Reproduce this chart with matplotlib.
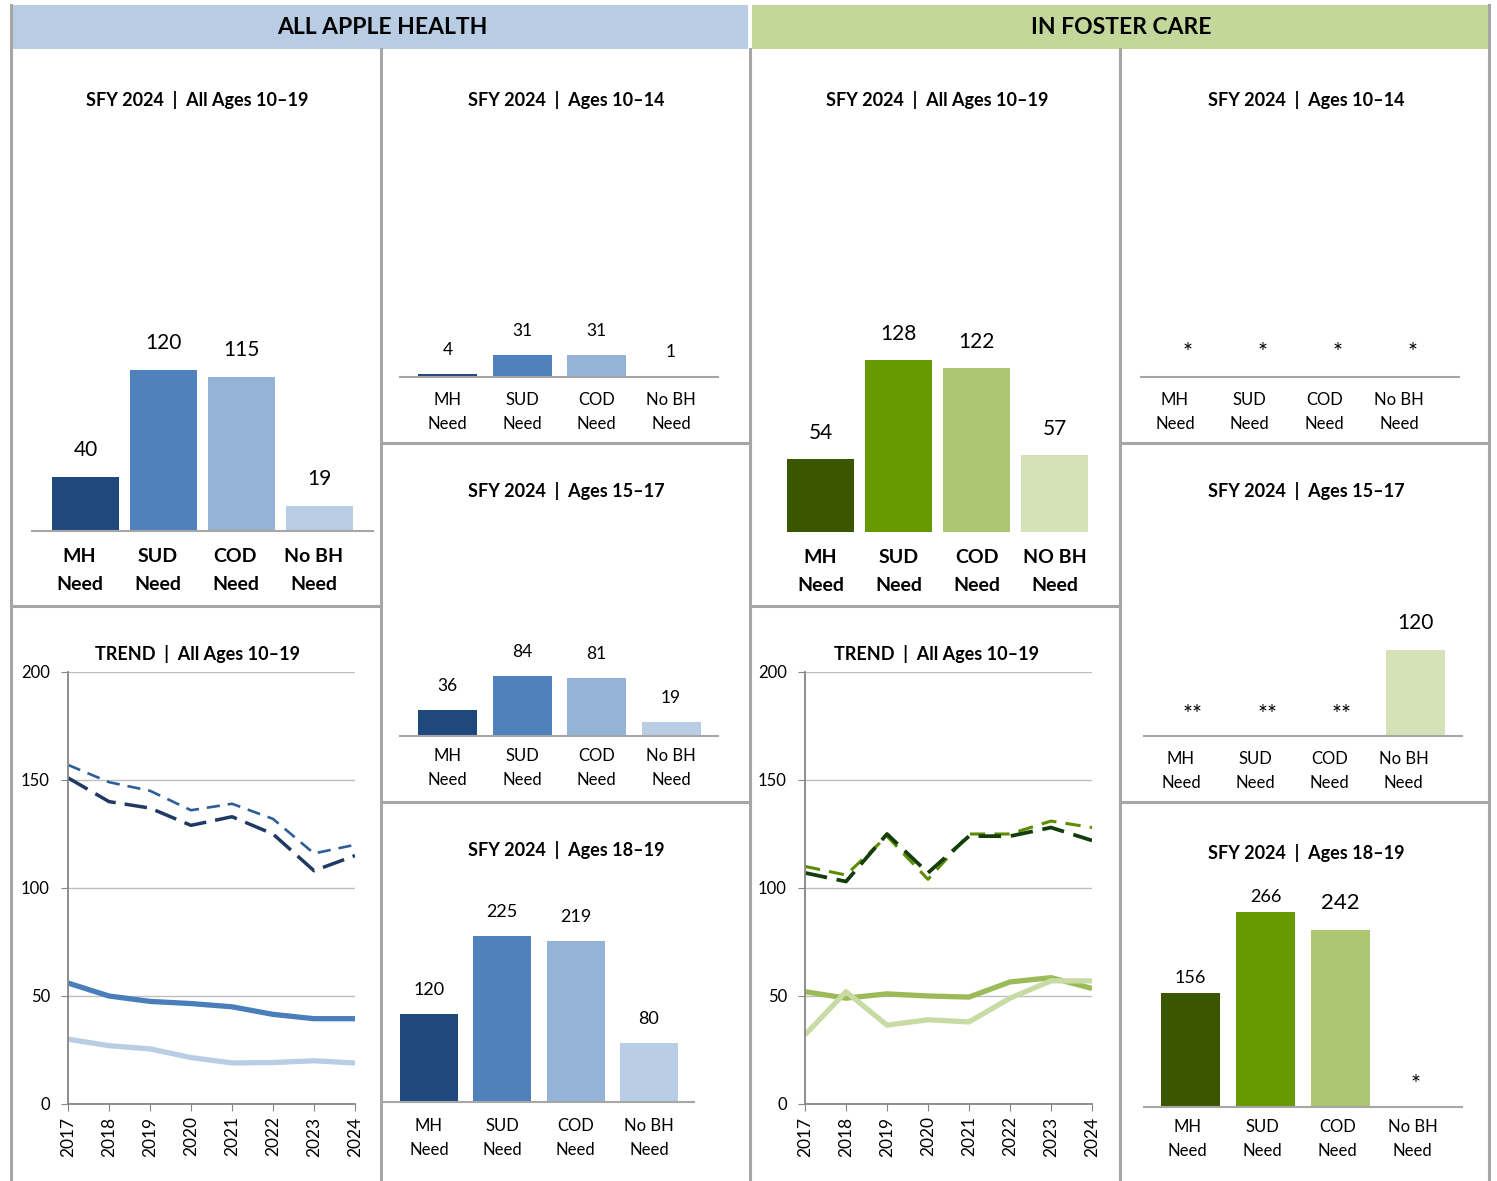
import matplotlib
matplotlib.use('Agg')
import matplotlib.pyplot as plt
import numpy as np
from matplotlib.patches import Rectangle
from matplotlib.lines import Line2D

plt.rcParams['font.family'] = ['Lato', 'DejaVu Sans']

# ---- data ----
cats = ['MH\nNeed', 'SUD\nNeed', 'COD\nNeed', 'No BH\nNeed']
cats_fc_all = ['MH\nNeed', 'SUD\nNeed', 'COD\nNeed', 'NO BH\nNeed']

aah_all = [40, 120, 115, 19]
aah_10_14 = [4, 31, 31, 1]
aah_15_17 = [36, 84, 81, 19]
aah_18_19 = [120, 225, 219, 80]

fc_all = [54, 128, 122, 57]
fc_10_14 = [None, None, None, None]
fc_15_17 = [None, None, None, 120]
fc_18_19 = [156, 266, 242, None]
# text shown for suppressed values
fc_10_14_mask = ['*', '*', '*', '*']
fc_15_17_mask = ['**', '**', '**', '']
fc_18_19_mask = ['', '', '', '*']

years = [2017, 2018, 2019, 2020, 2021, 2022, 2023, 2024]
aah_trend_cod = [151, 140, 137, 129, 133, 125, 108, 115]
aah_trend_sud = [157, 149, 145, 136, 139, 132, 116, 120]
aah_trend_mh = [56, 50, 47.5, 46.5, 45, 41.5, 39.5, 39.5]
aah_trend_nobh = [30, 27, 25.5, 21.5, 19, 19.2, 20, 19]

fc_trend_cod = [107, 103, 125, 107, 124, 124, 128, 122]
fc_trend_sud = [110, 106, 124, 104, 125, 125, 131, 128]
fc_trend_mh = [52, 49, 51, 50, 49.5, 56.5, 58.5, 53.5]
fc_trend_nobh = [32, 52, 36.5, 39, 38, 49, 57, 57]

blues = ['#1F497D', '#4F81BD', '#95B3D7', '#B9CDE5']
greens = ['#3A5700', '#669900', '#ACC672', '#D5E2B8']

W, H = 1497, 1181
fig = plt.figure(figsize=(W / 100, H / 100), dpi=100)
fig.patch.set_facecolor('white')


def rect(l, t, r, b):
    return [l / W, 1 - b / H, (r - l) / W, (b - t) / H]


def fline(x0, y0, x1, y1):
    fig.add_artist(Line2D([x0 / W, x1 / W], [1 - y0 / H, 1 - y1 / H],
                          transform=fig.transFigure, color='#A6A6A6', lw=2.2))


def ftext(x, y, s, size=13, weight='bold'):
    fig.text(x / W, 1 - y / H, s, ha='center', va='center', fontsize=size, weight=weight)


# headers
fig.add_artist(Rectangle((12 / W, 1 - 49 / H), 736 / W, 44 / H, transform=fig.transFigure,
                         facecolor='#B8CCE4', edgecolor='none'))
fig.add_artist(Rectangle((752 / W, 1 - 49 / H), 737 / W, 44 / H, transform=fig.transFigure,
                         facecolor='#C4D79B', edgecolor='none'))
ftext(382, 28, 'ALL APPLE HEALTH', size=16.5)
ftext(1121, 28, 'IN FOSTER CARE', size=16.5)

# grid borders
fline(11, 5, 11, 1181)
fline(1489, 5, 1489, 1181)
for xb in [381, 750, 1120]:
    fline(xb, 49, xb, 1181)
fline(11, 606, 381, 606)
fline(750, 606, 1120, 606)
for yb in [443, 802]:
    fline(381, yb, 750, yb)
    fline(1120, yb, 1489, yb)

# panel titles
ftext(197, 100, 'SFY 2024  |  All Ages 10–19')
ftext(566, 100, 'SFY 2024  |  Ages 10–14')
ftext(566, 491, 'SFY 2024  |  Ages 15–17')
ftext(566, 850, 'SFY 2024  |  Ages 18–19')
ftext(937, 100, 'SFY 2024  |  All Ages 10–19')
ftext(1306, 100, 'SFY 2024  |  Ages 10–14')
ftext(1306, 491, 'SFY 2024  |  Ages 15–17')
ftext(1306, 853, 'SFY 2024  |  Ages 18–19')
ftext(197, 654, 'TREND  |  All Ages 10–19')
ftext(937, 654, 'TREND  |  All Ages 10–19')


def bar_panel(box, c0, sp, bw, scale, vals, colors, labels, bold=False,
              vsize=12.5, csize=12, voff=24, pad=9, dx=0, spine=True,
              mask=None, moff=26, msize=17, big=None, ls=1.65):
    l, r, base, top = box
    ax = fig.add_axes(rect(l, top, r, base))
    x = np.arange(len(vals))
    h = [v if v is not None else 0 for v in vals]
    ax.bar(x, h, width=bw / sp, color=colors)
    ax.set_xlim((l - c0) / sp, (r - c0) / sp)
    ax.set_ylim(0, (base - top) / scale)
    for i, v in enumerate(vals):
        if v is not None:
            fs, off = vsize, voff
            if big is not None and i in big:
                fs, off = big[i]
            ax.annotate(str(v), (i, v), xytext=(0, off * 0.72), textcoords='offset points',
                        ha='center', va='center', fontsize=fs)
        elif mask is not None and mask[i]:
            ax.annotate(mask[i], (i, 0), xytext=(0, moff * 0.72), textcoords='offset points',
                        ha='center', va='center', fontsize=msize)
    ax.set_xticks(x + dx / sp)
    ax.set_xticklabels(labels, fontsize=csize, weight='bold' if bold else 'normal',
                       linespacing=ls)
    ax.tick_params(axis='x', length=0, pad=pad)
    ax.set_yticks([])
    for s in ['top', 'right', 'left']:
        ax.spines[s].set_visible(False)
    if spine:
        ax.spines['bottom'].set_color('#A6A6A6')
        ax.spines['bottom'].set_linewidth(1.5)
    else:
        ax.spines['bottom'].set_visible(False)
    ax.patch.set_alpha(0)
    return ax


bar_panel((32, 373, 531, 130), 85.5, 78, 67, 1.34, aah_all, blues, cats, bold=True,
          vsize=15, csize=14, voff=27, pad=12.5, dx=-6, ls=1.75)
bar_panel((400, 718, 377, 140), 447.5, 74.5, 59, 0.72, aah_10_14, blues, cats,
          voff=24, pad=10.5)
bar_panel((400, 718, 736, 520), 447.5, 74.5, 59, 0.715, aah_15_17, blues, cats,
          voff=24, pad=8.5)
bar_panel((383, 694, 1102, 880), 429, 73.3, 58, 0.737, aah_18_19, blues, cats,
          vsize=13, voff=24, pad=11.5)

bar_panel((770, 1110, 532, 130), 820.5, 78, 67, 1.345, fc_all, greens, cats_fc_all, bold=True,
          vsize=15, csize=14, voff=26, pad=12.5, spine=False, ls=1.75)
bar_panel((1141, 1459, 377, 140), 1188, 74.7, 59, 0.72, fc_10_14, greens, cats,
          pad=10.5, dx=-13, mask=fc_10_14_mask, moff=24)
bar_panel((1144, 1462, 736, 520), 1193, 74.2, 59, 0.717, fc_15_17, greens, cats,
          vsize=15, voff=27, pad=10.5, dx=-12, mask=fc_15_17_mask, moff=21)
bar_panel((1144, 1462, 1107, 880), 1190.5, 75, 59, 0.733, fc_18_19, greens, cats,
          vsize=13, voff=15, pad=8.5, dx=-3, mask=fc_18_19_mask, moff=23,
          big={2: (16, 27)})


def trend_panel(box, series):
    l, r, base, top = box
    ax = fig.add_axes(rect(l, top, r, base))
    for vals, color, lw, dash in series:
        if dash is None:
            ax.plot(years, vals, color=color, lw=lw, solid_capstyle='butt')
        else:
            ax.plot(years, vals, color=color, lw=lw, dashes=dash, dash_capstyle='butt')
    ax.set_xlim(2017, 2024)
    ax.set_ylim(0, 200)
    ax.set_yticks([0, 50, 100, 150, 200])
    ax.set_xticks(years)
    ax.set_xticklabels([str(y) for y in years], rotation=90, fontsize=12.5)
    ax.tick_params(axis='y', labelsize=12, length=5, color='#868686', pad=8)
    ax.tick_params(axis='x', length=5, color='#868686', pad=4)
    ax.grid(axis='y', color='#BFBFBF', lw=1)
    ax.set_axisbelow(True)
    for s in ['top', 'right']:
        ax.spines[s].set_visible(False)
    for s in ['left', 'bottom']:
        ax.spines[s].set_color('#868686')
        ax.spines[s].set_linewidth(1.3)
    ax.patch.set_alpha(0)
    return ax


trend_panel((68, 355, 1104, 672), [
    (aah_trend_cod, '#1F3864', 2.5, (6.5, 2.6)),
    (aah_trend_sud, '#2E5E9A', 1.9, (5, 3)),
    (aah_trend_mh, '#4A7EBB', 3.8, None),
    (aah_trend_nobh, '#B9CDE5', 3.8, None),
])
trend_panel((805, 1092, 1104, 672), [
    (fc_trend_sud, '#5E8C00', 2.2, (5, 3)),
    (fc_trend_cod, '#133D0A', 2.7, (6, 2.6)),
    (fc_trend_mh, '#9BBB59', 3.8, None),
    (fc_trend_nobh, '#C9DBA5', 3.8, None),
])

fig.savefig('out.png', dpi=100, facecolor='white')
